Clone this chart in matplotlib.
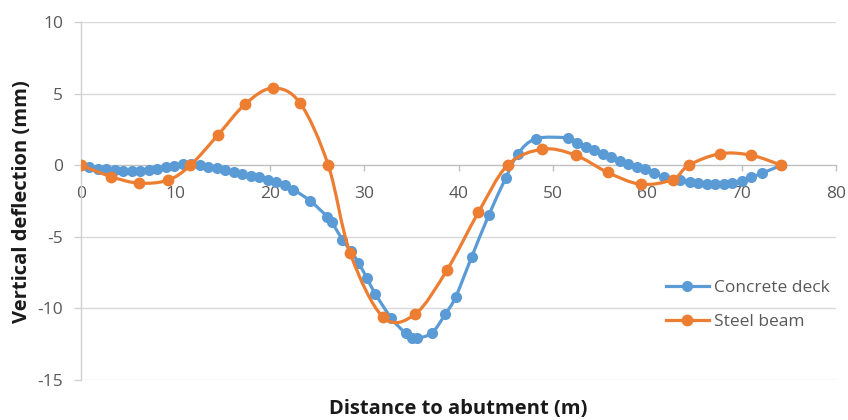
import numpy as np
import matplotlib
matplotlib.use("Agg")
import matplotlib.pyplot as plt
from matplotlib.path import Path
from matplotlib.patches import PathPatch
from matplotlib.lines import Line2D

plt.rcParams['font.family'] = ['Open Sans', 'DejaVu Sans']
plt.rcParams['axes.unicode_minus'] = False

# concrete deck (blue)
deck_x = [0, 0.9, 1.8, 2.7, 3.6, 4.5, 5.4, 6.3, 7.2, 8.1, 9.0, 9.9, 10.8, 11.7,
          12.6, 13.5, 14.4, 15.3, 16.2, 17.1, 18.0, 18.9, 19.8, 20.7, 21.6, 22.5,
          24.3, 26.1, 26.6, 27.7, 28.6, 29.4, 30.3, 31.2, 32.9, 34.4, 35.1, 35.6,
          37.2, 38.6, 39.7, 41.4, 43.2, 45.0, 46.3, 48.2, 51.6, 52.6, 53.5, 54.4,
          55.3, 56.2, 57.1, 58.0, 58.9, 59.8, 60.7, 61.8, 63.5, 64.5, 65.4, 66.3,
          67.2, 68.1, 69.0, 70.0, 71.0, 72.2, 74.2]
deck_y = [0, -0.15, -0.25, -0.3, -0.35, -0.4, -0.4, -0.38, -0.32, -0.25, -0.15, -0.05, 0.05, 0.05,
          0, -0.1, -0.2, -0.35, -0.45, -0.6, -0.72, -0.85, -1.0, -1.15, -1.4, -1.7,
          -2.5, -3.6, -4.0, -5.2, -6.0, -6.8, -7.9, -9.0, -10.7, -11.75, -12.05, -12.1,
          -11.7, -10.4, -9.2, -6.4, -3.5, -0.9, 0.8, 1.85, 1.9, 1.55, 1.3, 1.05,
          0.8, 0.55, 0.3, 0.1, -0.1, -0.3, -0.55, -0.8, -1.05, -1.2, -1.25, -1.3,
          -1.3, -1.3, -1.25, -1.1, -0.85, -0.55, 0]

# steel beam (orange)
beam_x = [0, 3.2, 6.1, 9.2, 11.6, 14.5, 17.4, 20.3, 23.2, 26.2, 28.5, 32.0, 35.4,
          38.8, 42.1, 45.2, 48.9, 52.4, 55.8, 59.3, 62.7, 64.4, 67.7, 71.0, 74.2]
beam_y = [0, -0.8, -1.25, -1.05, 0, 2.1, 4.27, 5.38, 4.35, 0, -6.1, -10.6, -10.4,
          -7.3, -3.3, 0, 1.12, 0.7, -0.5, -1.33, -1.0, 0, 0.8, 0.7, 0]

x_ticks = [0, 10, 20, 30, 40, 50, 60, 70, 80]
y_ticks = [-15, -10, -5, 0, 5, 10]

BLUE = "#5B9BD5"
ORANGE = "#ED7D31"
GRAY_TXT = "#595959"


def smooth_path(xs, ys):
    # excel-style smoothed line (catmull-rom through the points)
    pts = np.column_stack([xs, ys]).astype(float)
    n = len(pts)
    verts = [pts[0]]
    codes = [Path.MOVETO]
    for i in range(n - 1):
        p0 = pts[max(i - 1, 0)]
        p1 = pts[i]
        p2 = pts[i + 1]
        p3 = pts[min(i + 2, n - 1)]
        verts += [p1 + (p2 - p0) / 6, p2 - (p3 - p1) / 6, p2]
        codes += [Path.CURVE4] * 3
    return Path(verts, codes)


fig = plt.figure(figsize=(8.48, 4.2), dpi=100)
ax = fig.add_axes([81 / 848, 1 - 380 / 420, 755 / 848, 358 / 420])

ax.set_xlim(0, 80)
ax.set_ylim(-15, 10)
ax.set_xticks(x_ticks)
ax.set_yticks(y_ticks)

for yv in y_ticks:
    if yv != 0:
        ax.axhline(yv, color="#D9D9D9", lw=1.0, zorder=0)

ax.spines['top'].set_visible(False)
ax.spines['right'].set_visible(False)
ax.spines['bottom'].set_position(('data', 0))
ax.spines['bottom'].set_color("#BFBFBF")
ax.spines['left'].set_color("#D0D0D0")
ax.spines['bottom'].set_linewidth(1.0)
ax.spines['left'].set_linewidth(1.0)

ax.tick_params(axis='x', direction='out', length=4, width=1, color="#BFBFBF",
               labelsize=12.5, labelcolor=GRAY_TXT, pad=11)
ax.tick_params(axis='y', direction='out', length=5, width=1, color="#D0D0D0",
               labelsize=12.5, labelcolor=GRAY_TXT, pad=8)

for xs, ys, col, ms in [(deck_x, deck_y, BLUE, 8), (beam_x, beam_y, ORANGE, 8.5)]:
    patch = PathPatch(smooth_path(xs, ys), facecolor='none', edgecolor=col,
                      lw=2.3, zorder=3, capstyle='round', joinstyle='round')
    ax.add_patch(patch)
    ax.plot(xs, ys, linestyle='none', marker='o', color=col, markersize=ms,
            markeredgewidth=0, zorder=3)

handles = [Line2D([], [], color=BLUE, lw=2.3, marker='o', markersize=8, markeredgewidth=0),
           Line2D([], [], color=ORANGE, lw=2.3, marker='o', markersize=8.5, markeredgewidth=0)]
fig.legend(handles, ["Concrete deck", "Steel beam"], loc='upper left',
           bbox_to_anchor=(666 / 848, 1 - 280 / 420), frameon=False,
           fontsize=12.5, labelcolor=GRAY_TXT, handlelength=2.45,
           handletextpad=0.3, labelspacing=1.0, borderpad=0, borderaxespad=0)

fig.text(458 / 848, 1 - 409 / 420, "Distance to abutment (m)", ha='center', va='center',
         fontsize=14.5, fontweight='bold', color="#1a1a1a")
fig.text(22 / 848, 1 - 202 / 420, "Vertical deflection (mm)", ha='center', va='center',
         rotation=90, fontsize=14.5, fontweight='bold', color="#1a1a1a")

fig.savefig("out.png", dpi=100)
